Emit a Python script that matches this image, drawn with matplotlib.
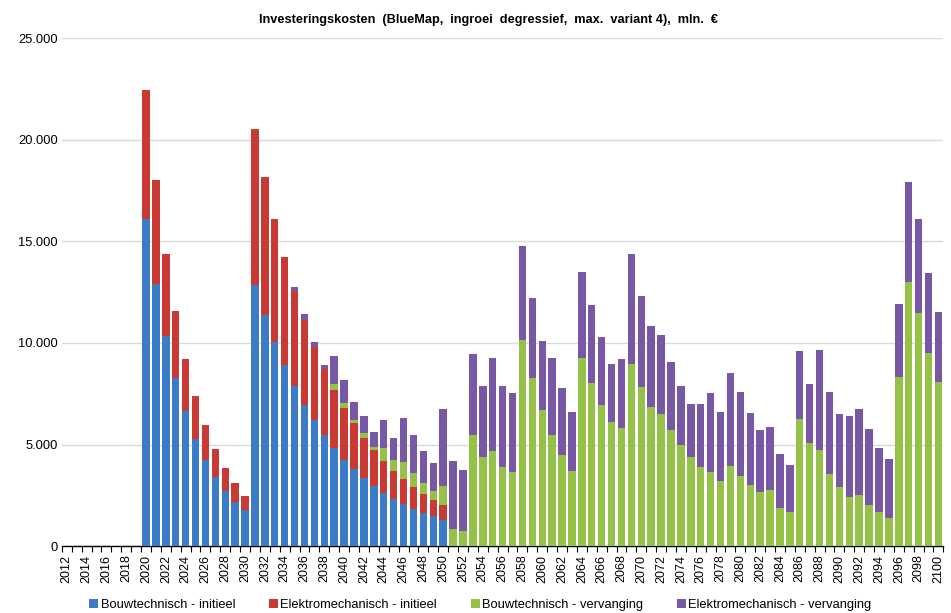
import numpy as np
import matplotlib.pyplot as plt
from matplotlib.ticker import FuncFormatter

plt.rcParams['font.family'] = ['Liberation Sans', 'DejaVu Sans']

# jaren en investeringen (mln. euro)
years = list(range(2012, 2101))

bouw_init = [0] * 8 + [
    16100, 12900, 10330, 8280, 6640, 5270, 4230, 3400, 2710, 2170, 1770,
    12840, 11370, 10050, 8910, 7870, 6940, 6200, 5460, 4820, 4230,
    3790, 3350, 2950, 2610, 2310, 2070, 1820, 1620, 1480, 1280,
] + [0] * 50
elek_init = [0] * 8 + [
    6350, 5100, 4040, 3280, 2560, 2110, 1720, 1370, 1130, 930, 690,
    7660, 6790, 6040, 5310, 4680, 4180, 3590, 3250, 2860, 2560,
    2260, 1960, 1770, 1570, 1380, 1230, 1080, 940, 780, 740,
] + [0] * 50
bouw_verv = [0] * 27 + [
    290, 250, 150, 250, 150, 640, 540, 830, 690, 540, 450, 930,
    840, 740, 5460, 4380, 4670, 3890, 3640, 10140, 8270, 6690,
    5460, 4480, 3690, 9250, 8020, 6940, 6100, 5810, 8960, 7820,
    6840, 6500, 5710, 4970, 4380, 3890, 3640, 3200, 3940, 3450,
    3000, 2660, 2760, 1870, 1670, 6250, 5100, 4750, 3550, 2900,
    2400, 2500, 2050, 1700, 1400, 8300, 13000, 11450, 9500, 8080,
]
elek_verv = [0] * 23 + [
    200, 300, 250, 200, 1380, 1130, 890, 840, 740, 1380, 1080, 2170,
    1870, 1570, 1370, 3790, 3340, 3000, 3990, 3490, 4580, 3980,
    3890, 4620, 3930, 3400, 3790, 3300, 2900, 4230, 3840, 3350,
    2860, 3390, 5410, 4480, 3990, 3880, 3340, 2900, 2610, 3100,
    3890, 3390, 4570, 4130, 3540, 3050, 3100, 2660, 2320, 3350,
    2870, 4900, 4050, 3600, 4000, 4250, 3700, 3150, 2900, 3630,
    4900, 4650, 3920, 3460,
]

labels = ['Bouwtechnisch - initieel', 'Elektromechanisch - initieel',
          'Bouwtechnisch - vervanging', 'Elektromechanisch - vervanging']
colors = ['#3C7BC8', '#C93A35', '#95C148', '#7858A5']

fig = plt.figure(figsize=(9.51, 6.13), dpi=100)
ax = fig.add_axes([0.065, 0.109, 0.927, 0.829])

x = np.arange(len(years))
bottom = np.zeros(len(years))
for vals, lab, col in zip([bouw_init, elek_init, bouw_verv, elek_verv], labels, colors):
    v = np.array(vals, dtype=float)
    ax.bar(x, v, width=0.75, bottom=bottom, color=col, label=lab, zorder=3)
    bottom += v

ax.set_ylim(0, 25000)
ax.set_yticks(range(0, 25001, 5000))
ax.yaxis.set_major_formatter(FuncFormatter(lambda v, p: '{:,.0f}'.format(v).replace(',', '.')))
ax.set_xlim(-0.5, len(years) - 0.5)
ax.set_xticks(x[::2])
ax.set_xticklabels([str(y) for y in years[::2]], rotation=90)
ax.set_xticks(np.arange(len(years) + 1) - 0.5, minor=True)
ax.tick_params(axis='x', which='major', length=0, labelsize=9, pad=6)
ax.tick_params(axis='x', which='minor', length=4, width=0.8, color='black')
ax.tick_params(axis='y', length=0, labelsize=9.3, pad=3)

ax.grid(axis='y', color='#D9D9D9', linewidth=1, zorder=0)
for s in ['top', 'right', 'left']:
    ax.spines[s].set_visible(False)
ax.spines['bottom'].set_linewidth(1)

ax.set_title('Investeringskosten  (BlueMap,  ingroei  degressief,  max.  variant 4),  mln.  €',
             fontsize=9.2, fontweight='bold', pad=11, x=0.4835)

fig.legend(loc='lower center', bbox_to_anchor=(0.505, -0.016), ncol=4, frameon=False,
           fontsize=9.3, handlelength=0.7, handleheight=0.7, handletextpad=0.2,
           columnspacing=2.6)

fig.savefig('out.png', dpi=100)
